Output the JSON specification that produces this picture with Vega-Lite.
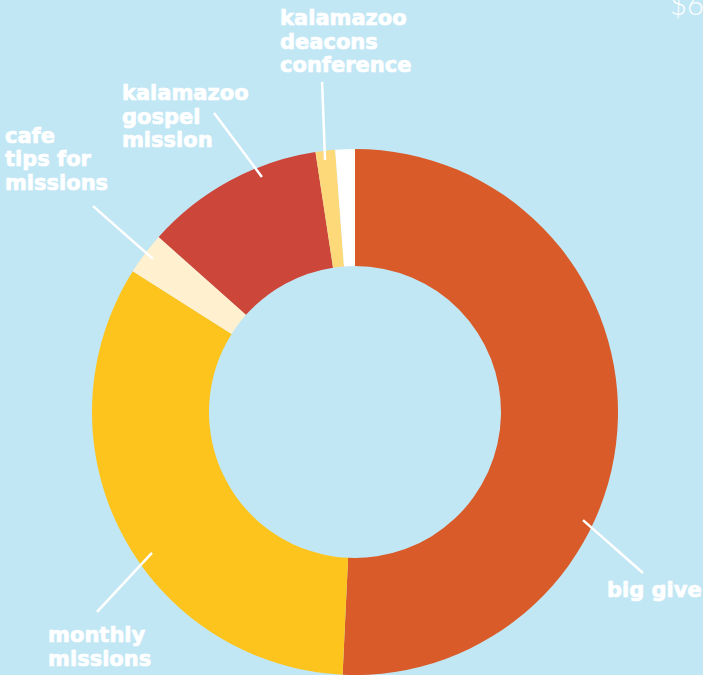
{
  "$schema": "https://vega.github.io/schema/vega-lite/v6.json",
  "width": 526,
  "height": 526,
  "autosize": "none",
  "padding": {"left": 92, "top": 149, "right": 85, "bottom": 0},
  "background": "#c2e7f4",
  "config": {"view": {"stroke": null}},
  "datasets": {
    "slices": [
      {"category": "big give", "share": 50.7, "idx": 1},
      {"category": "monthly missions", "share": 33.2, "idx": 2},
      {"category": "cafe tips for missions", "share": 2.6, "idx": 3},
      {"category": "kalamazoo gospel mission", "share": 11.0, "idx": 4},
      {"category": "kalamazoo deacons conference", "share": 1.2, "idx": 5},
      {"category": "other", "share": 1.2, "idx": 6}
    ],
    "leaders": [
      {"category": "big give", "x1": 0.867, "y1": -0.411, "x2": 1.095, "y2": -0.612},
      {"category": "monthly missions", "x1": -0.772, "y1": -0.536, "x2": -0.981, "y2": -0.760},
      {"category": "cafe tips for missions", "x1": -0.768, "y1": 0.582, "x2": -0.996, "y2": 0.783},
      {"category": "kalamazoo gospel mission", "x1": -0.354, "y1": 0.894, "x2": -0.536, "y2": 1.137},
      {"category": "kalamazoo deacons conference", "x1": -0.114, "y1": 0.958, "x2": -0.125, "y2": 1.255}
    ],
    "labels": [
      {"text": "big give", "lx": 0.958, "ly": -0.703},
      {"text": "monthly\nmissions", "lx": -1.167, "ly": -0.875},
      {"text": "cafe\ntips for\nmissions", "lx": -1.331, "ly": 1.023},
      {"text": "kalamazoo\ngospel\nmission", "lx": -0.886, "ly": 1.186},
      {"text": "kalamazoo\ndeacons\nconference", "lx": -0.285, "ly": 1.471}
    ]
  },
  "layer": [
    {
      "data": {"name": "slices"},
      "mark": {"type": "arc", "innerRadius": 146, "outerRadius": 263},
      "encoding": {
        "theta": {"field": "share", "type": "quantitative", "stack": true},
        "order": {"field": "idx", "type": "quantitative"},
        "color": {
          "field": "category",
          "type": "nominal",
          "legend": null,
          "scale": {
            "domain": ["big give", "monthly missions", "cafe tips for missions", "kalamazoo gospel mission", "kalamazoo deacons conference", "other"],
            "range": ["#d85b29", "#fdc41e", "#fff0d0", "#cc463a", "#fed97a", "#ffffff"]
          }
        }
      }
    },
    {
      "data": {"name": "leaders"},
      "mark": {"type": "rule", "color": "#ffffff", "strokeWidth": 2.5},
      "encoding": {
        "x": {"field": "x1", "type": "quantitative", "axis": null, "scale": {"domain": [-1, 1], "nice": false, "zero": false}},
        "y": {"field": "y1", "type": "quantitative", "axis": null, "scale": {"domain": [-1, 1], "nice": false, "zero": false}},
        "x2": {"field": "x2"},
        "y2": {"field": "y2"}
      }
    },
    {
      "data": {"name": "labels"},
      "mark": {
        "type": "text",
        "font": "DejaVu Sans",
        "fontWeight": "bold",
        "fontSize": 21,
        "fill": "#ffffff",
        "stroke": "#ffffff",
        "strokeWidth": 0.7,
        "align": "left",
        "baseline": "alphabetic",
        "lineBreak": "\n",
        "lineHeight": 23.5
      },
      "encoding": {
        "x": {"field": "lx", "type": "quantitative"},
        "y": {"field": "ly", "type": "quantitative"},
        "text": {"field": "text"}
      }
    },
    {
      "data": {"values": [{"text": "$6", "lx": 1.198, "ly": 1.51}]},
      "mark": {
        "type": "text",
        "font": "Lato",
        "fontWeight": 300,
        "fontSize": 29,
        "color": "#ffffff",
        "align": "left",
        "baseline": "alphabetic"
      },
      "encoding": {
        "x": {"field": "lx", "type": "quantitative"},
        "y": {"field": "ly", "type": "quantitative"},
        "text": {"field": "text"}
      }
    }
  ]
}
